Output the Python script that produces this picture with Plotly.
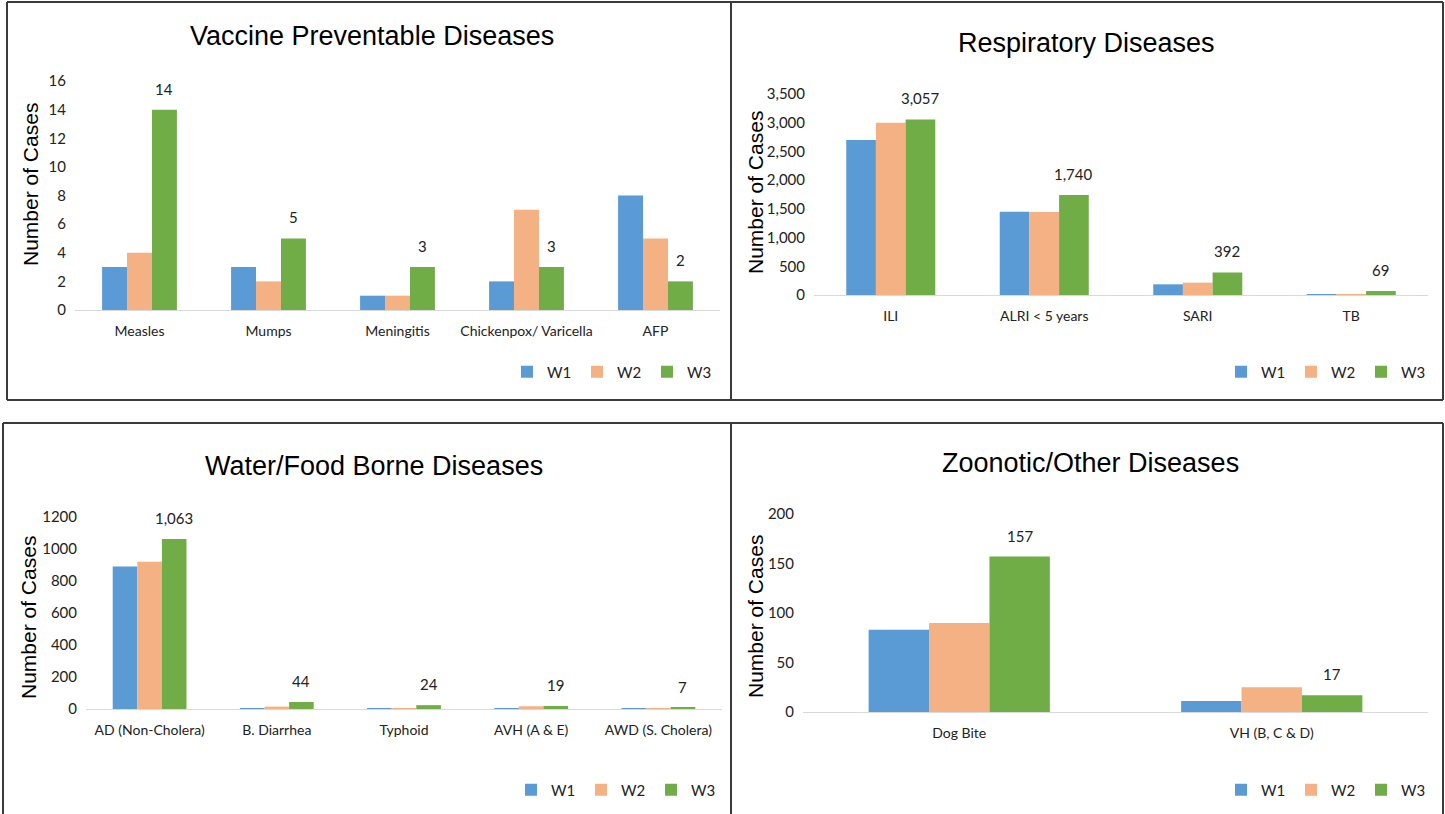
import plotly.graph_objects as go

W, H = 1445, 814

weeks = ["W1", "W2", "W3"]
colors = ["#5B9BD5", "#F4B183", "#70AD47"]

# Vaccine preventable diseases
vpd_cats = ["Measles", "Mumps", "Meningitis", "Chickenpox/ Varicella", "AFP"]
vpd_w1 = [3, 3, 1, 2, 8]
vpd_w2 = [4, 2, 1, 7, 5]
vpd_w3 = [14, 5, 3, 3, 2]

# Respiratory diseases
resp_cats = ["ILI", "ALRI < 5 years", "SARI", "TB"]
resp_w1 = [2700, 1450, 186, 10]
resp_w2 = [3000, 1445, 215, 6]
resp_w3 = [3057, 1740, 392, 69]

# Water / food borne diseases
wfb_cats = ["AD (Non-Cholera)", "B. Diarrhea", "Typhoid", "AVH (A & E)", "AWD (S. Cholera)"]
wfb_w1 = [890, 3, 2, 2, 2]
wfb_w2 = [921, 15, 2, 17, 3]
wfb_w3 = [1063, 44, 24, 19, 7]

# Zoonotic / other diseases
zoo_cats = ["Dog Bite", "VH (B, C & D)"]
zoo_w1 = [83, 11]
zoo_w2 = [90, 25]
zoo_w3 = [157, 17]

BODY = "Lato, Liberation Sans, sans-serif"
ARIAL = "Liberation Sans, Arial, sans-serif"
BARGAP = 0.42


def px(x):
    return x / W


def py(y):
    return 1 - y / H


panels = [
    dict(title="Vaccine Preventable Diseases", cats=vpd_cats, series=[vpd_w1, vpd_w2, vpd_w3],
         box=(75, 720, 81, 310), yrange=[0, 16], dtick=2, tickformat="d", comma=False,
         title_xy=(372, 36), ytitle_xy=(30, 185), legend_xy=(507, 372)),
    dict(title="Respiratory Diseases", cats=resp_cats, series=[resp_w1, resp_w2, resp_w3],
         box=(814, 1428, 94, 295), yrange=[0, 3500], dtick=500, tickformat=",d", comma=True,
         title_xy=(1086, 43), ytitle_xy=(755, 193), legend_xy=(1221, 372)),
    dict(title="Water/Food Borne Diseases", cats=wfb_cats, series=[wfb_w1, wfb_w2, wfb_w3],
         box=(86, 722, 517, 709), yrange=[0, 1200], dtick=200, tickformat="d", comma=True,
         title_xy=(374, 466), ytitle_xy=(28, 618), legend_xy=(511, 790)),
    dict(title="Zoonotic/Other Diseases", cats=zoo_cats, series=[zoo_w1, zoo_w2, zoo_w3],
         box=(803, 1428, 514, 712), yrange=[0, 200], dtick=50, tickformat="d", comma=False,
         title_xy=(1090, 463), ytitle_xy=(755, 617), legend_xy=(1221, 790)),
]

fig = go.Figure()
annotations = []
layout_extra = {}

for k, p in enumerate(panels):
    n = "" if k == 0 else str(k + 1)
    xa, ya = "x" + n, "y" + n
    leg = "legend" + n
    for w, vals, col in zip(weeks, p["series"], colors):
        fig.add_trace(go.Bar(
            x=p["cats"], y=vals, name=w, marker=dict(color=col, line=dict(width=0)),
            xaxis=xa, yaxis=ya, legend=leg, hoverinfo="x+y+name",
        ))
    x0, x1, y0, y1 = p["box"]
    layout_extra["xaxis" + n] = dict(
        domain=[px(x0), px(x1)], anchor=ya, type="category",
        showline=True, linecolor="#d9d9d9", linewidth=1.3, ticks="",
        showgrid=False, zeroline=False, ticklabelstandoff=8,
        tickfont=dict(family=BODY, size=14, color="#222"),
    )
    layout_extra["yaxis" + n] = dict(
        domain=[py(y1), py(y0)], anchor=xa, range=p["yrange"], dtick=p["dtick"],
        tickformat=p["tickformat"], showgrid=False, zeroline=False, showline=False,
        ticks="", ticklabelstandoff=8, tickfont=dict(family=BODY, size=15, color="#222"),
    )
    lx, ly = p["legend_xy"]
    layout_extra[leg] = dict(
        orientation="h", x=px(lx), y=py(ly), xanchor="left", yanchor="middle",
        font=dict(family=BODY, size=15, color="#222"),
        entrywidth=25, entrywidthmode="pixels", itemwidth=30,
        bgcolor="rgba(0,0,0,0)", traceorder="normal",
    )
    # value labels above the W3 bars
    w3_offset = (1 - BARGAP) / 3
    for i, v in enumerate(p["series"][2]):
        annotations.append(dict(
            x=i + w3_offset, y=v, xref=xa, yref=ya, yshift=21,
            text=f"{v:,}" if p["comma"] else str(v), showarrow=False,
            font=dict(family=BODY, size=15, color="#222"), yanchor="middle",
        ))
    tx, ty = p["title_xy"]
    annotations.append(dict(
        x=px(tx), y=py(ty), xref="paper", yref="paper", text=p["title"],
        showarrow=False, xanchor="center", yanchor="middle",
        font=dict(family=ARIAL, size=27, color="#000"),
    ))
    ax_, ay_ = p["ytitle_xy"]
    annotations.append(dict(
        x=px(ax_), y=py(ay_), xref="paper", yref="paper", text="Number of Cases",
        showarrow=False, xanchor="center", yanchor="middle", textangle=-90,
        font=dict(family=ARIAL, size=21, color="#000"),
    ))

# panel frames
frame_lines = [
    (7, 2, 731, 2), (7, 2, 7, 400), (7, 400, 731, 400),
    (731, 2, 1443, 2), (1443, 2, 1443, 400), (731, 400, 1443, 400),
    (731, 2, 731, 400),
    (3, 423, 731, 423), (3, 423, 3, 814),
    (731, 423, 1443, 423), (1443, 423, 1443, 814), (731, 423, 731, 814),
]
shapes = [
    dict(type="line", xref="paper", yref="paper",
         x0=px(a), y0=py(b), x1=px(c), y1=py(d),
         line=dict(color="#3a3a3a", width=2))
    for a, b, c, d in frame_lines
]

fig.update_layout(
    width=W, height=H, margin=dict(l=0, r=0, t=0, b=0, autoexpand=False),
    paper_bgcolor="white", plot_bgcolor="white",
    barmode="group", bargap=BARGAP, bargroupgap=0,
    annotations=annotations, shapes=shapes, showlegend=True,
    **layout_extra,
)

fig.write_html("out.html")
